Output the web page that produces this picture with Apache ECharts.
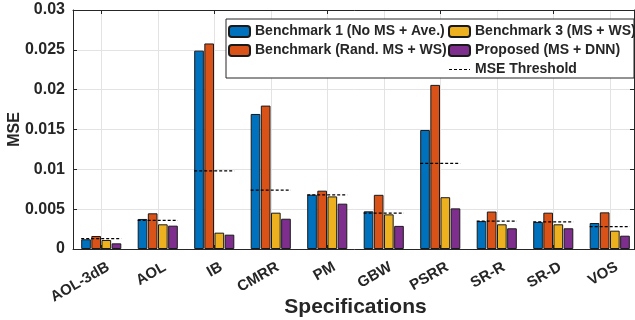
<!DOCTYPE html>
<html>
<head>
<meta charset="utf-8">
<script src="https://cdn.jsdelivr.net/npm/echarts@6/dist/echarts.min.js"></script>
<style>
  html, body { margin: 0; padding: 0; background: #fff; }
  #chart { width: 635px; height: 320px; }
</style>
</head>
<body>
<div id="chart"></div>
<script>
const specs = ['AOL-3dB', 'AOL', 'IB', 'CMRR', 'PM', 'GBW', 'PSRR', 'SR-R', 'SR-D', 'VOS'];
const bench1 = [0.00122, 0.00377, 0.0249, 0.01695, 0.00682, 0.00473, 0.01494, 0.0035, 0.0034, 0.00326];
const benchRand = [0.00163, 0.00448, 0.0258, 0.0180, 0.00732, 0.0068, 0.0206, 0.0047, 0.00456, 0.0046];
const bench3 = [0.00113, 0.0031, 0.00205, 0.00456, 0.0066, 0.00435, 0.0065, 0.0031, 0.0031, 0.0023];
const proposed = [0.00071, 0.00293, 0.0018, 0.0038, 0.00569, 0.0029, 0.0051, 0.0026, 0.0026, 0.00167];
const threshold = [0.0013, 0.0036, 0.0098, 0.0074, 0.0068, 0.0045, 0.01075, 0.0035, 0.0034, 0.0028];

const font = '"Liberation Sans", Arial, Helvetica, sans-serif';
const ink = '#262626';
const gridGray = '#e3e3e3';
const groupFrac = 0.71;

// half-step slots so vertical grid lines can sit on the category centres
const halfSlots = Array.from({ length: specs.length * 2 + 1 }, (_, i) => String(i));

const chart = echarts.init(document.getElementById('chart'));

const barSeries = (name, data, color) => ({
  name: name,
  type: 'bar',
  data: data,
  barCategoryGap: '29%',
  barGap: '5%',
  itemStyle: { color: color, borderColor: '#1a1a1a', borderWidth: 1 },
  z: 2
});

const dashIcon = 'path://M0 0h3v1h-3z M5 0h3v1h-3z M10 0h3v1h-3z M15 0h3v1h-3z M20 0h1v1h-1z';

const legendText = { fontFamily: font, fontSize: 14, fontWeight: 'bold', color: ink, lineHeight: 14 };

const option = {
  animation: false,
  grid: [
    // data area: MATLAB's last category runs a little past the box, so it's wider than the frame
    { left: 73, right: -3, top: 10, bottom: 71, outerBoundsMode: 'none', containLabel: false },
    // frame for the right-hand axis
    { left: 73, right: 1, top: 10, bottom: 71, outerBoundsMode: 'none', containLabel: false },
    // tick labels, nudged right like MATLAB's rotated labels
    { left: 80, right: -10, top: 10, bottom: 71, outerBoundsMode: 'none', containLabel: false }
  ],
  legend: [
    {
      data: ['Benchmark 1 (No MS + Ave.)', 'Benchmark (Rand. MS + WS)'],
      orient: 'vertical', left: 228, top: 24.5, padding: 0,
      itemWidth: 21, itemHeight: 11, itemGap: 5,
      textStyle: legendText, z: 5
    },
    {
      data: ['Benchmark 3 (MS + WS)', 'Proposed (MS + DNN)',
        { name: 'MSE Threshold', icon: dashIcon, itemStyle: { color: '#000', borderWidth: 0 } }],
      orient: 'vertical', left: 448, top: 24.5, padding: 0,
      itemWidth: 21, itemHeight: 11, itemGap: 5,
      textStyle: legendText, z: 5
    }
  ],
  graphic: [{
    type: 'rect', z: 4,
    shape: { x: 226, y: 19, width: 408, height: 59 },
    style: { fill: '#fff', stroke: ink, lineWidth: 1 }
  }],
  xAxis: [
    {
      gridIndex: 0,
      type: 'category',
      data: specs,
      name: 'Specifications',
      nameLocation: 'middle',
      nameGap: 48,
      nameMoveOverlap: false,
      nameTextStyle: { fontFamily: font, fontSize: 21, fontWeight: 'bold', color: ink },
      axisLine: { lineStyle: { color: ink, width: 1 } },
      axisTick: { show: true, inside: true, alignWithLabel: true, length: 4, lineStyle: { color: ink } },
      axisLabel: { show: false },
      splitLine: { show: false }
    },
    {
      gridIndex: 0,
      type: 'category',
      data: specs,
      position: 'top',
      axisLine: { lineStyle: { color: ink, width: 1 } },
      axisTick: { show: true, inside: true, alignWithLabel: true, length: 4, lineStyle: { color: ink } },
      axisLabel: { show: false },
      splitLine: { show: false }
    },
    {
      gridIndex: 0,
      type: 'category',
      data: halfSlots,
      boundaryGap: false,
      position: 'bottom',
      axisLine: { show: false },
      axisTick: { show: false },
      axisLabel: { show: false },
      splitLine: {
        show: true,
        interval: (index) => index % 2 === 1,
        lineStyle: { color: gridGray, width: 1 }
      }
    },
    { gridIndex: 1, type: 'category', data: specs, show: false },
    {
      gridIndex: 2,
      type: 'category',
      data: specs,
      axisLine: { show: false },
      axisTick: { show: false },
      axisLabel: { rotate: 30, margin: 17, fontFamily: font, fontSize: 15, fontWeight: 'bold', color: ink },
      splitLine: { show: false }
    }
  ],
  yAxis: [
    {
      gridIndex: 0,
      type: 'value',
      min: 0, max: 0.03, interval: 0.005,
      name: 'MSE',
      nameLocation: 'middle',
      nameGap: 50,
      nameMoveOverlap: false,
      nameTextStyle: { fontFamily: font, fontSize: 16, fontWeight: 'bold', color: ink },
      axisLine: { show: true, lineStyle: { color: ink, width: 1 } },
      axisTick: { show: true, inside: true, length: 4, lineStyle: { color: ink } },
      axisLabel: {
        margin: 8, fontFamily: font, fontSize: 16, fontWeight: 'bold', color: ink,
        formatter: v => String(+v.toFixed(3))
      },
      splitLine: { show: true, lineStyle: { color: gridGray, width: 1 } }
    },
    {
      gridIndex: 1,
      type: 'value',
      min: 0, max: 0.03, interval: 0.005,
      position: 'right',
      axisLine: { show: true, lineStyle: { color: ink, width: 1 } },
      axisTick: { show: true, inside: true, length: 4, lineStyle: { color: ink } },
      axisLabel: { show: false },
      splitLine: { show: false }
    },
    { gridIndex: 2, type: 'value', min: 0, max: 1, show: false }
  ],
  series: [
    barSeries('Benchmark 1 (No MS + Ave.)', bench1, '#0072BD'),
    barSeries('Benchmark (Rand. MS + WS)', benchRand, '#D95319'),
    barSeries('Benchmark 3 (MS + WS)', bench3, '#EDB120'),
    barSeries('Proposed (MS + DNN)', proposed, '#7E2F8E'),
    {
      name: 'MSE Threshold',
      type: 'custom',
      itemStyle: { color: '#000' },
      data: threshold.map((v, i) => [i, v]),
      encode: { x: 0, y: 1 },
      z: 3,
      renderItem: (params, api) => {
        const c = api.coord([api.value(0), api.value(1)]);
        const w = api.size([1, 0])[0] * groupFrac;
        return {
          type: 'line',
          shape: { x1: c[0] - w / 2, y1: c[1], x2: c[0] + w / 2, y2: c[1] },
          style: { stroke: '#000', lineWidth: 1.2, lineDash: [3, 2] }
        };
      }
    }
  ]
};

chart.setOption(option);
</script>
</body>
</html>
